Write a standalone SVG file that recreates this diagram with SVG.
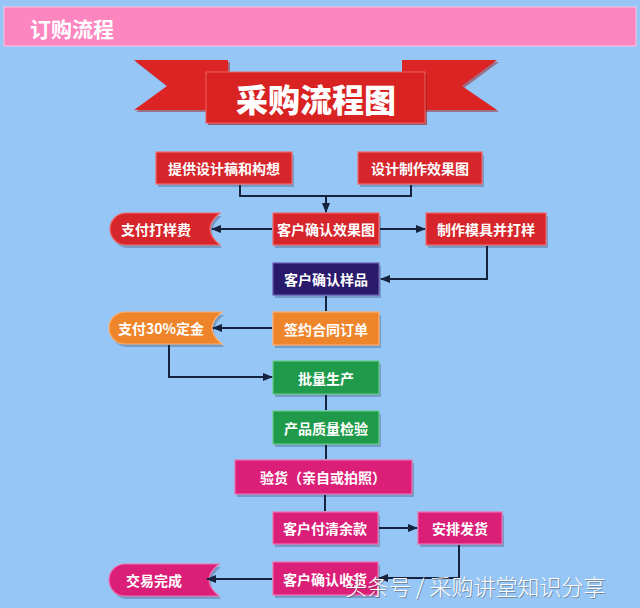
<svg xmlns="http://www.w3.org/2000/svg" width="640" height="608" viewBox="0 0 640 608">
<defs>
<style>
.t{font-family:"Noto Sans CJK SC","Noto Sans",sans-serif;font-weight:700;fill:#ffffff;text-anchor:middle;dominant-baseline:central;font-size:14px}
.box{stroke-width:1.2}
.red{fill:#d6262b;stroke:#f06a6a}
.navy{fill:#2a1a6c;stroke:#6a5ab0}
.orange{fill:#ef852b;stroke:#ffb070}
.green{fill:#1f9a4a;stroke:#66cc88}
.mag{fill:#db1f78;stroke:#f070b0}
.sh{fill:#3a4a70;opacity:0.35}
.ln{fill:none;stroke:#16233e;stroke-width:2}
</style>
<marker id="ah" viewBox="0 0 10 10" refX="9" refY="5" markerWidth="5" markerHeight="5" orient="auto-start-reverse">
<path d="M0,1 L10,5 L0,9 Z" fill="#16233e"/>
</marker>
</defs>
<rect x="0" y="0" width="640" height="608" fill="#96c6f6"/>
<g id="header">
<rect x="4" y="7" width="632" height="39" fill="#fd86c0" stroke="#ffc0de" stroke-width="1"/>
<text x="30" y="28" font-family="Noto Sans CJK SC,sans-serif" font-weight="700" font-size="21" fill="#ffffff" dominant-baseline="central">订购流程</text>
</g>
<g id="title">
<polygon points="136,62 230,62 230,112 136,112 169,88" fill="#a01a1c" opacity="0.5"/>
<polygon points="134,60 228,60 228,110 134,110 167,86" fill="#dc2424"/>
<polygon points="404,62 499,62 464,88 499,112 404,112" fill="#a01a1c" opacity="0.5"/>
<polygon points="402,60 497,60 462,86 497,110 402,110" fill="#dc2424"/>
<rect x="208" y="74" width="219" height="51" fill="#9a1a1c" opacity="0.6"/>
<rect x="206" y="72" width="219" height="51" fill="#d92222" stroke="#f06060" stroke-width="1"/>
<text x="316" y="98" font-family="Noto Sans CJK SC,sans-serif" font-weight="900" font-size="32" fill="#ffffff" text-anchor="middle" dominant-baseline="central">采购流程图</text>
</g>
<g id="n1"><rect class="sh" x="158" y="155" width="136" height="32"/><rect class="box red" x="156" y="152" width="136" height="32"/><text class="t" x="224" y="168">提供设计稿和构想</text></g>
<g id="n2"><rect class="sh" x="360" y="155" width="124" height="32"/><rect class="box red" x="358" y="152" width="124" height="32"/><text class="t" x="420" y="168">设计制作效果图</text></g>
<g id="n3"><path class="sh" d="M128,216 L222,216 Q202,232 222,248 L128,248 A16,16 0 0 1 128,216 Z"/><path class="box red" d="M126,213 L220,213 Q200,229 220,245 L126,245 A16,16 0 0 1 126,213 Z"/><text class="t" x="156" y="229">支付打样费</text></g>
<g id="n4"><rect class="sh" x="275" y="216" width="106" height="32"/><rect class="box red" x="273" y="213" width="106" height="32"/><text class="t" x="326" y="229">客户确认效果图</text></g>
<g id="n5"><rect class="sh" x="428" y="216" width="120" height="32"/><rect class="box red" x="426" y="213" width="120" height="32"/><text class="t" x="486" y="229">制作模具并打样</text></g>
<g id="n6"><rect class="sh" x="275" y="266" width="106" height="32"/><rect class="box navy" x="273" y="263" width="106" height="32"/><text class="t" x="326" y="279">客户确认样品</text></g>
<g id="n7"><path class="sh" d="M127,315 L224,315 Q204,331 224,347 L127,347 A16,16 0 0 1 127,315 Z"/><path class="box orange" d="M125,312 L222,312 Q202,328 222,344 L125,344 A16,16 0 0 1 125,312 Z"/><text class="t" x="161" y="328">支付30%定金</text></g>
<g id="n8"><rect class="sh" x="275" y="315" width="106" height="33"/><rect class="box orange" x="273" y="312" width="106" height="33"/><text class="t" x="326" y="328.5">签约合同订单</text></g>
<g id="n9"><rect class="sh" x="275" y="364" width="106" height="33"/><rect class="box green" x="273" y="361" width="106" height="33"/><text class="t" x="326" y="377.5">批量生产</text></g>
<g id="n10"><rect class="sh" x="275" y="414" width="106" height="33"/><rect class="box green" x="273" y="411" width="106" height="33"/><text class="t" x="326" y="427.5">产品质量检验</text></g>
<g id="n11"><rect class="sh" x="237" y="463" width="177" height="34"/><rect class="box mag" x="235" y="460" width="177" height="34"/><text class="t" x="323" y="477">验货（亲自或拍照）</text></g>
<g id="n12"><rect class="sh" x="275" y="515" width="105" height="32"/><rect class="box mag" x="273" y="512" width="105" height="32"/><text class="t" x="325" y="528">客户付清余款</text></g>
<g id="n13"><rect class="sh" x="420" y="515" width="84" height="32"/><rect class="box mag" x="418" y="512" width="84" height="32"/><text class="t" x="460" y="528">安排发货</text></g>
<g id="n14"><path class="sh" d="M127,567 L221,567 Q201,583 221,599 L127,599 A16,16 0 0 1 127,567 Z"/><path class="box mag" d="M125,564 L219,564 Q199,580 219,596 L125,596 A16,16 0 0 1 125,564 Z"/><text class="t" x="154" y="580">交易完成</text></g>
<g id="n15"><rect class="sh" x="275" y="565" width="105" height="33"/><rect class="box mag" x="273" y="562" width="105" height="33"/><text class="t" x="325" y="578.5">客户确认收货</text></g>
<g id="connectors">
<polyline class="ln" points="240,185 240,196 411,196 411,185"/>
<polyline class="ln" points="326,196 326,212" marker-end="url(#ah)"/>
<line class="ln" x1="272" y1="229" x2="212" y2="229" marker-end="url(#ah)"/>
<line class="ln" x1="380" y1="229" x2="425" y2="229" marker-end="url(#ah)"/>
<polyline class="ln" points="487,246 487,279 381,279" marker-end="url(#ah)"/>
<line class="ln" x1="326" y1="296" x2="326" y2="311"/>
<line class="ln" x1="272" y1="328" x2="213" y2="328" marker-end="url(#ah)"/>
<polyline class="ln" points="169,345 169,377 272,377" marker-end="url(#ah)"/>
<line class="ln" x1="326" y1="395" x2="326" y2="410"/>
<line class="ln" x1="326" y1="445" x2="326" y2="459"/>
<line class="ln" x1="325" y1="495" x2="325" y2="511"/>
<line class="ln" x1="379" y1="528" x2="417" y2="528" marker-end="url(#ah)"/>
<polyline class="ln" points="459,545 459,578 379,578" marker-end="url(#ah)"/>
<line class="ln" x1="272" y1="579" x2="207" y2="579" marker-end="url(#ah)"/>
</g>
<g id="watermark">
<text x="346" y="596" font-family="Noto Sans CJK SC,sans-serif" font-weight="300" font-size="22" fill="#555" opacity="0.5">头条号 / 采购讲堂知识分享</text>
<text x="345" y="595" font-family="Noto Sans CJK SC,sans-serif" font-weight="300" font-size="22" fill="#ffffff">头条号 / 采购讲堂知识分享</text>
</g>
</svg>
